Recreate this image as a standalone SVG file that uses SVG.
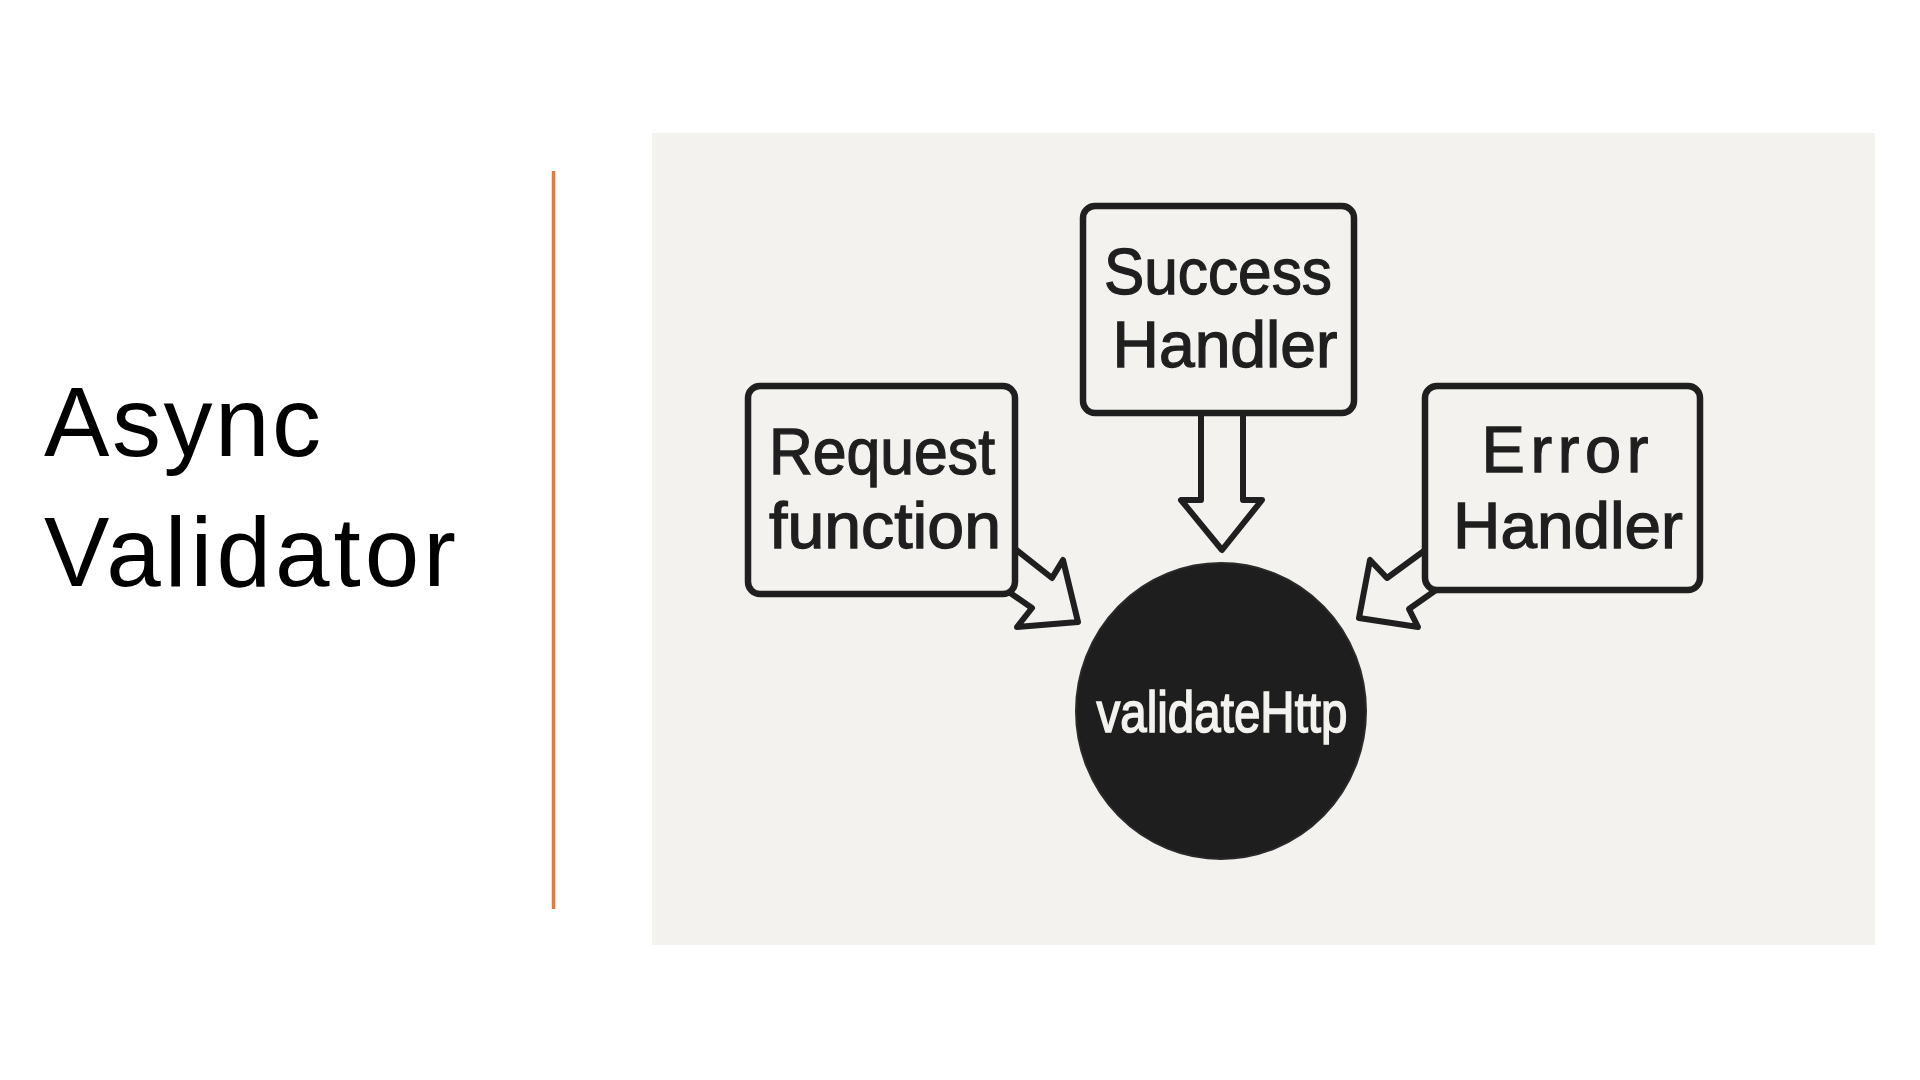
<svg xmlns="http://www.w3.org/2000/svg" width="1920" height="1080" viewBox="0 0 1920 1080">
<style>
.title{font-family:"Liberation Sans","Arial",sans-serif;font-size:98px;fill:#000}
.box{fill:#F4F2EE;stroke:#1f1f1f;stroke-width:6.5;stroke-linejoin:round}
.lbl{font-family:"Liberation Sans","Arial",sans-serif;font-size:65px;fill:#1f1f1f;stroke:#1f1f1f;stroke-width:1.3;text-anchor:middle}
.arrow{fill:#F4F2EE;stroke:#1f1f1f;stroke-width:6;stroke-linejoin:round}
.core{font-family:"Liberation Sans","Arial",sans-serif;font-size:58px;fill:#F4F2EE;stroke:#F4F2EE;stroke-width:1.6;text-anchor:middle}
</style>
<rect width="1920" height="1080" fill="#ffffff"/>
<text class="title"><tspan x="44" y="456" textLength="277" lengthAdjust="spacing">Async</tspan><tspan x="44" y="586" textLength="412" lengthAdjust="spacing">Validator</tspan></text>
<line x1="553.5" y1="171" x2="553.5" y2="909" stroke="#E07B45" stroke-width="3.5"/>
<rect x="652" y="133" width="1223" height="812" fill="#F4F2EE"/>
<g id="connectors">
<polygon class="arrow" points="1201,413 1243,413 1243,500 1262,500 1222,550 1181,500 1201,500"/>
<polygon class="arrow" points="1014,548 1052,578 1063,560 1078,622 1017,627 1032,608 1006,590"/>
<polygon class="arrow" points="1428,548 1387,578 1370,560 1359,618 1418,627 1409,609 1436,590"/>
</g>
<g id="success">
<rect class="box" x="1083" y="206" width="271" height="207" rx="12"/>
<text class="lbl"><tspan x="1218" y="294" textLength="228" lengthAdjust="spacingAndGlyphs">Success</tspan><tspan x="1225" y="367" textLength="225" lengthAdjust="spacingAndGlyphs">Handler</tspan></text>
</g>
<g id="request">
<rect class="box" x="748" y="386" width="267" height="208" rx="12"/>
<text class="lbl"><tspan x="882" y="474" textLength="226" lengthAdjust="spacingAndGlyphs">Request</tspan><tspan x="885" y="548" textLength="232" lengthAdjust="spacingAndGlyphs">function</tspan></text>
</g>
<g id="error">
<rect class="box" x="1425" y="386" width="275" height="204" rx="12"/>
<text class="lbl"><tspan x="1565" y="472" textLength="167" lengthAdjust="spacing">Error</tspan><tspan x="1568" y="548" textLength="230" lengthAdjust="spacingAndGlyphs">Handler</tspan></text>
</g>
<g id="validateHttp">
<ellipse cx="1221" cy="711" rx="145" ry="148" fill="#1e1e1e" stroke="#2a2a2a" stroke-width="2"/>
<text class="core" x="1222" y="732" textLength="251" lengthAdjust="spacingAndGlyphs">validateHttp</text>
</g>
</svg>
